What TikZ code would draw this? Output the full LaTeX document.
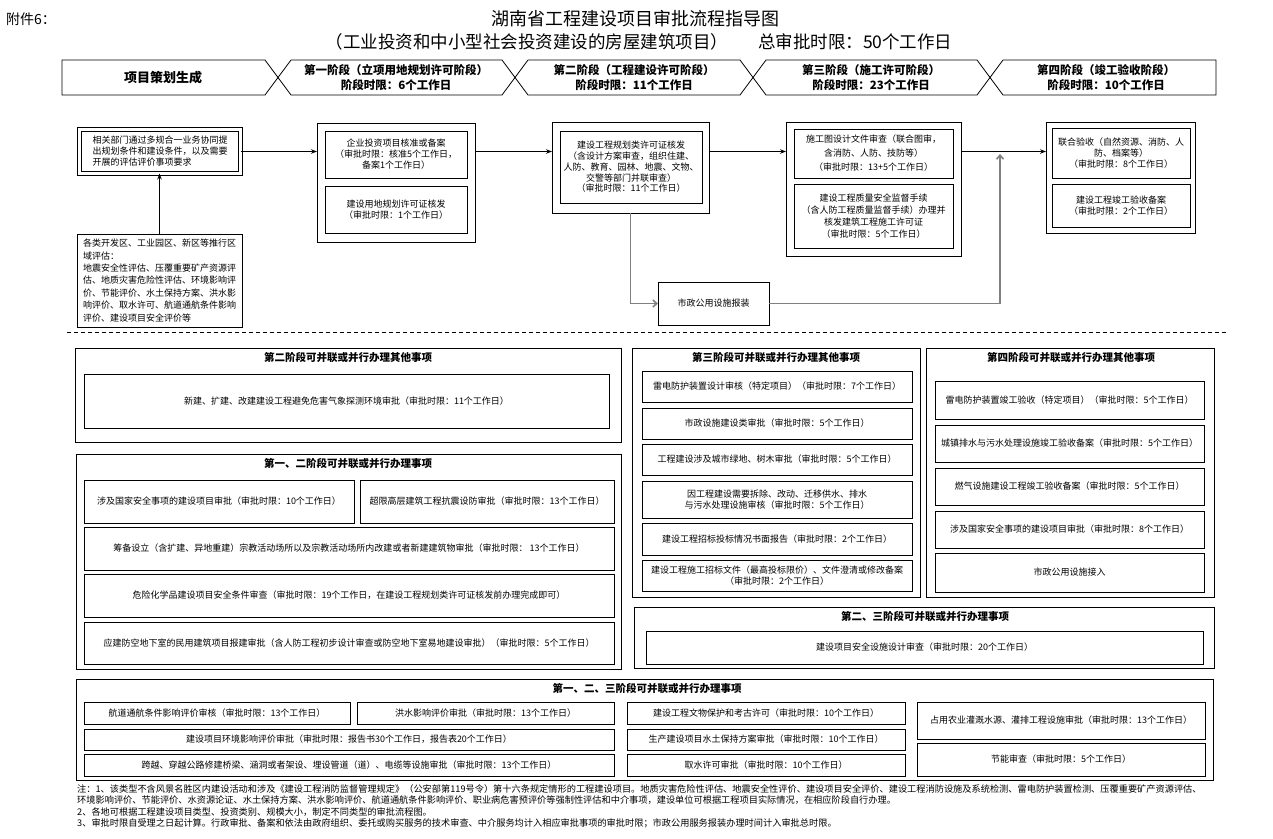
\documentclass[tikz,border=0pt]{standalone}
\usepackage{fontspec}
\setmainfont{Noto Sans CJK SC}
\usetikzlibrary{positioning, arrows.meta}

\begin{document}
\begin{tikzpicture}[x=1pt, y=-1pt, >={Stealth[length=6pt,width=4.5pt]},
  sz/.style 2 args={minimum width=#1pt, minimum height=#2pt},
  item/.style={draw, line width=0.7pt, inner sep=1pt, outer sep=0pt, align=center, font=\fontsize{9}{11}\selectfont},
  grp/.style={draw, line width=0.9pt, inner sep=0pt, outer sep=0pt},
  ttl/.style={font=\bfseries\fontsize{10.5}{12}\selectfont},
  stage/.style={align=center, font=\bfseries\fontsize{11.5}{15}\selectfont},
  arr/.style={->, line width=1.3pt},
  gline/.style={-{Straight Barb[length=4pt,width=7pt]}, draw=black!50, line width=1.6pt},
  note/.style={anchor=west, inner sep=0pt, font=\fontsize{9.2}{11}\selectfont}]
  \useasboundingbox (0,0) rectangle (1273,838);

  \node[anchor=west, inner sep=0pt, font=\fontsize{14}{16}\selectfont] at (6,19) (hdr) {附件6：};
  \node[font=\fontsize{18}{20}\selectfont] at (635,19) (title) {湖南省工程建设项目审批流程指导图};
  \node[font=\fontsize{17.5}{20}\selectfont] at (639,42) (subtitle) {（工业投资和中小型社会投资建设的房屋建筑项目）\hspace{30pt}总审批时限：50个工作日};

  \draw[line width=0.8pt] (62,60) -- (265,60) -- (278,77.5) -- (265,95) -- (62,95) -- cycle;
  \draw[line width=0.8pt] (291,60) -- (502,60) -- (515,77.5) -- (502,95) -- (291,95) -- (278,77.5) -- cycle;
  \draw[line width=0.8pt] (528,60) -- (740,60) -- (753,77.5) -- (740,95) -- (528,95) -- (515,77.5) -- cycle;
  \draw[line width=0.8pt] (766,60) -- (977,60) -- (990,77.5) -- (977,95) -- (766,95) -- (753,77.5) -- cycle;
  \draw[line width=0.8pt] (1003,60) -- (1216,60) -- (1216,95) -- (1003,95) -- (990,77.5) -- cycle;
  \node[stage, font=\bfseries\fontsize{13}{15}\selectfont] at (163,77.5) (plan) {项目策划生成};
  \node[stage] at (396,77.5) (st1) {第一阶段（立项用地规划许可阶段）\\阶段时限：6个工作日};
  \node[stage] at (634,77.5) (st2) {第二阶段（工程建设许可阶段）\\阶段时限：11个工作日};
  \node[stage] at (871,77.5) (st3) {第三阶段（施工许可阶段）\\阶段时限：23个工作日};
  \node[stage] at (1106,77.5) (st4) {第四阶段（竣工验收阶段）\\阶段时限：10个工作日};

  \node[item, double, double distance=3.5pt, sz={161}{44}, align=left] at (160,151.5) (req) {相关部门通过多规合一业务协同提\\出规划条件和建设条件，以及需要\\开展的评估评价事项要求};
  \node[item, sz={165}{93}, align=left, font=\fontsize{9}{12.4}\selectfont] at (159.5,280.5) (area) {各类开发区、工业园区、新区等推行区\\域评估：\\地震安全性评估、压覆重要矿产资源评\\估、地质灾害危险性评估、环境影响评\\价、节能评价、水土保持方案、洪水影\\响评价、取水许可、航道通航条件影响\\评价、建设项目安全评价等};

  \node[grp, sz={158}{119}] at (396,182.5) (st1grp) {};
  \node[item, sz={142}{47}] at (396,154.5) (st1a) {企业投资项目核准或备案\\（审批时限：核准5个工作日，\\备案1个工作日）};
  \node[item, sz={142}{47}] at (396,209.5) (st1b) {建设用地规划许可证核发\\（审批时限：1个工作日）};

  \node[grp, sz={157}{91}] at (630.5,167.5) (st2grp) {};
  \node[item, sz={142}{72}, font=\fontsize{9}{10.8}\selectfont] at (631,167) (st2a) {建设工程规划类许可证核发\\（含设计方案审查，组织住建、\\人防、教育、园林、地震、文物、\\交警等部门并联审查）\\（审批时限：11个工作日）};

  \node[grp, sz={175}{134}] at (873.5,189) (st3grp) {};
  \node[item, sz={159}{49}, font=\fontsize{9}{14}\selectfont] at (873.5,153.5) (st3a) {施工图设计文件审查（联合图审，\\含消防、人防、技防等）\\（审批时限：13+5个工作日）};
  \node[item, sz={159}{64}, font=\fontsize{9}{12}\selectfont] at (873.5,216) (st3b) {建设工程质量安全监督手续\\（含人防工程质量监督手续）办理并\\核发建筑工程施工许可证\\（审批时限：5个工作日）};

  \node[grp, sz={149}{111}] at (1120.5,177.5) (st4grp) {};
  \node[item, sz={138}{50}] at (1121,153) (st4a) {联合验收（自然资源、消防、人\\防、档案等）\\（审批时限：8个工作日）};
  \node[item, sz={138}{43}] at (1121,205.5) (st4b) {建设工程竣工验收备案\\（审批时限：2个工作日）};

  \node[item, sz={111}{43}] at (713.5,303.5) (muni) {市政公用设施报装};
  \coordinate (j) at (1000,154);

  \draw[arr] (area.north) -- (area.north |- req.south);
  \draw[arr] (req.east) -- (req.east -| st1grp.west);
  \draw[arr] (st1grp.east |- req.east) -- (req.east -| st2grp.west);
  \draw[arr] (st2grp.east |- req.east) -- (req.east -| st3grp.west);
  \draw[arr] (st3grp.east |- req.east) -- (req.east -| st4grp.west);
  \draw[gline] (st2grp.south) |- (muni.west);
  \draw[gline] (muni.east) -| (j);

  \draw[dash pattern=on 4pt off 3pt, line width=0.7pt] (67,332) -- (1227,332);

  \node[grp, sz={546}{94}] at (348,395) (g2) {};
  \node[ttl] at (348,357) (g2t) {第二阶段可并联或并行办理其他事项};
  \node[item, sz={525}{54}] at (346.5,401) (g2a) {新建、扩建、改建建设工程避免危害气象探测环境审批（审批时限：11个工作日）};

  \node[grp, sz={545}{215}] at (348.5,561.5) (g12) {};
  \node[ttl] at (348,463) (g12t) {第一、二阶段可并联或并行办理事项};
  \node[item, sz={270}{43}] at (219,501.5) (g12a) {涉及国家安全事项的建设项目审批（审批时限：10个工作日）};
  \node[item, sz={254}{43}] at (487,501.5) (g12b) {超限高层建筑工程抗震设防审批（审批时限：13个工作日）};
  \node[item, sz={530}{43}] at (349,548.5) (g12c) {筹备设立（含扩建、异地重建）宗教活动场所以及宗教活动场所内改建或者新建建筑物审批（审批时限： 13个工作日）};
  \node[item, sz={530}{43}] at (349,595.5) (g12d) {危险化学品建设项目安全条件审查（审批时限：19个工作日，在建设工程规划类许可证核发前办理完成即可）};
  \node[item, sz={530}{42}] at (349,643) (g12e) {应建防空地下室的民用建筑项目报建审批（含人防工程初步设计审查或防空地下室易地建设审批）（审批时限：5个工作日）};

  \node[grp, sz={288}{249}] at (776,472.5) (g3) {};
  \node[ttl] at (776,357) (g3t) {第三阶段可并联或并行办理其他事项};
  \node[item, sz={270}{31}] at (777,386.5) (g3a) {雷电防护装置设计审核（特定项目）（审批时限：7个工作日）};
  \node[item, sz={270}{31}] at (777,423.5) (g3b) {市政设施建设类审批（审批时限：5个工作日）};
  \node[item, sz={270}{31}] at (777,459.5) (g3c) {工程建设涉及城市绿地、树木审批（审批时限：5个工作日）};
  \node[item, sz={270}{37}] at (777,499.5) (g3d) {因工程建设需要拆除、改动、迁移供水、排水\\与污水处理设施审核（审批时限：5个工作日）};
  \node[item, sz={270}{32}] at (777,539) (g3e) {建设工程招标投标情况书面报告（审批时限：2个工作日）};
  \node[item, sz={270}{31}] at (777,575.5) (g3f) {建设工程施工招标文件（最高投标限价）、文件澄清或修改备案\\（审批时限：2个工作日）};

  \node[grp, sz={288}{249}] at (1070,472.5) (g4) {};
  \node[ttl] at (1071,357) (g4t) {第四阶段可并联或并行办理其他事项};
  \node[item, sz={269}{38}] at (1069.5,400) (g4a) {雷电防护装置竣工验收（特定项目）（审批时限：5个工作日）};
  \node[item, sz={269}{37}] at (1069.5,443.5) (g4b) {城镇排水与污水处理设施竣工验收备案（审批时限：5个工作日）};
  \node[item, sz={269}{37}] at (1069.5,486.5) (g4c) {燃气设施建设工程竣工验收备案（审批时限：5个工作日）};
  \node[item, sz={269}{37}] at (1069.5,529.5) (g4d) {涉及国家安全事项的建设项目审批（审批时限：8个工作日）};
  \node[item, sz={269}{39}] at (1069.5,572.5) (g4e) {市政公用设施接入};

  \node[grp, sz={580}{61}] at (924,637.5) (g23) {};
  \node[ttl] at (925,616) (g23t) {第二、三阶段可并联或并行办理事项};
  \node[item, sz={557}{33}] at (924.5,647.5) (g23a) {建设项目安全设施设计审查（审批时限：20个工作日）};

  \node[grp, sz={1137}{101}] at (644.5,729.5) (g123) {};
  \node[ttl] at (647,688) (g123t) {第一、二、三阶段可并联或并行办理事项};
  \node[item, sz={266}{22}] at (217,713) (g123a) {航道通航条件影响评价审核（审批时限：13个工作日）};
  \node[item, sz={257}{22}] at (485.5,713) (g123b) {洪水影响评价审批（审批时限：13个工作日）};
  \node[item, sz={278}{22}] at (766,713) (g123c) {建设工程文物保护和考古许可（审批时限：10个工作日）};
  \node[item, sz={288}{37}] at (1061,720.5) (g123d) {占用农业灌溉水源、灌排工程设施审批（审批时限：13个工作日）};
  \node[item, sz={530}{21}] at (349,739.5) (g123e) {建设项目环境影响评价审批（审批时限：报告书30个工作日，报告表20个工作日）};
  \node[item, sz={278}{21}] at (766,739.5) (g123f) {生产建设项目水土保持方案审批（审批时限：10个工作日）};
  \node[item, sz={288}{33}] at (1061,759.5) (g123g) {节能审查（审批时限：5个工作日）};
  \node[item, sz={530}{22}] at (349,765) (g123h) {跨越、穿越公路修建桥梁、涵洞或者架设、埋设管道（道）、电缆等设施审批（审批时限：13个工作日）};
  \node[item, sz={278}{22}] at (766,765) (g123i) {取水许可审批（审批时限：10个工作日）};

  \node[note] at (77,789) (n1) {注：1、该类型不含风景名胜区内建设活动和涉及《建设工程消防监督管理规定》（公安部第119号令）第十六条规定情形的工程建设项目。地质灾害危险性评估、地震安全性评价、建设项目安全评价、建设工程消防设施及系统检测、雷电防护装置检测、压覆重要矿产资源评估、};
  \node[note] at (77,800) (n2) {环境影响评价、节能评价、水资源论证、水土保持方案、洪水影响评价、航道通航条件影响评价、职业病危害预评价等强制性评估和中介事项，建设单位可根据工程项目实际情况，在相应阶段自行办理。};
  \node[note] at (77,812) (n3) {2、各地可根据工程建设项目类型、投资类别、规模大小，制定不同类型的审批流程图。};
  \node[note] at (77,823) (n4) {3、审批时限自受理之日起计算。行政审批、备案和依法由政府组织、委托或购买服务的技术审查、中介服务均计入相应审批事项的审批时限；市政公用服务报装办理时间计入审批总时限。};
\end{tikzpicture}
\end{document}
